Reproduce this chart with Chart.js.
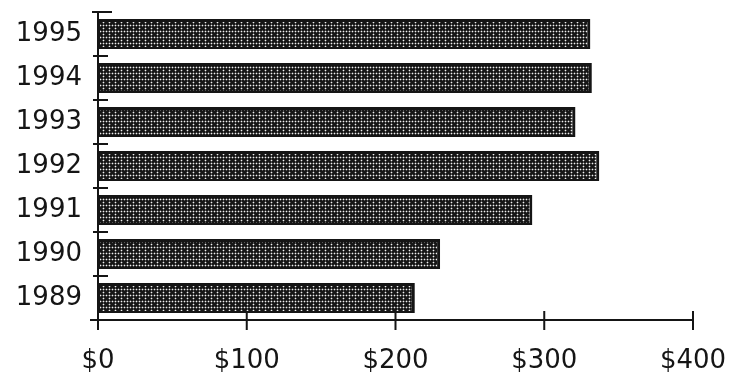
<!DOCTYPE html>
<html>
<head>
<meta charset="utf-8">
<script src="https://cdn.jsdelivr.net/npm/chart.js@4/dist/chart.umd.min.js"></script>
<style>
  html, body { margin: 0; padding: 0; background: #ffffff; }
  #wrap { width: 736px; height: 374px; }
</style>
</head>
<body>
<div id="wrap"><canvas id="chart" width="736" height="374"></canvas></div>
<script>
// Yearly amounts, oldest first (drawn bottom to top)
const years = ['1989', '1990', '1991', '1992', '1993', '1994', '1995'];
const amounts = [213, 230, 292, 337, 321, 332, 331];

// Value axis ticks and their labels
const priceValues = [0, 100, 200, 300, 400];
const priceTicks = ['$0', '$100', '$200', '$300', '$400'];

const INK = '#151515';

// Halftone fill for the bars: dark ground, a 3px lattice of soft light dots,
// with one dot left out per tile so small dark crosses show through
function makeHalftone() {
  const c = document.createElement('canvas');
  c.width = 6; c.height = 6;
  const g = c.getContext('2d');
  g.fillStyle = '#161616';
  g.fillRect(0, 0, 6, 6);
  const dots = [[1, 1], [4, 1], [1, 4]];
  g.fillStyle = '#555555';
  dots.forEach(([x, y]) => {
    g.fillRect(x - 1, y, 1, 1); g.fillRect(x + 1, y, 1, 1);
    g.fillRect(x, y - 1, 1, 1); g.fillRect(x, y + 1, 1, 1);
  });
  g.fillStyle = '#f0f0f0';
  dots.forEach(([x, y]) => g.fillRect(x, y, 1, 1));
  return g.createPattern(c, 'repeat');
}

// Axis lines with tick marks that cross the axis
const crossAxes = {
  id: 'crossAxes',
  afterDatasetsDraw(chart) {
    const { ctx, scales: { x, y }, chartArea: a } = chart;
    ctx.save();
    ctx.strokeStyle = INK;
    ctx.lineWidth = 2;
    ctx.lineCap = 'butt';
    ctx.beginPath();
    // value axis
    ctx.moveTo(a.left - 8, a.bottom);
    ctx.lineTo(x.getPixelForValue(priceValues[priceValues.length - 1]) + 1, a.bottom);
    // category axis
    ctx.moveTo(a.left, a.top - 1);
    ctx.lineTo(a.left, a.bottom);
    // ticks on value axis
    priceValues.forEach(v => {
      const px = x.getPixelForValue(v);
      ctx.moveTo(px, a.bottom - 9);
      ctx.lineTo(px, a.bottom + 10);
    });
    // ticks between categories
    for (let i = 0; i <= years.length; i++) {
      const py = y.getPixelForValue(i - 0.5);
      const out = (i === years.length) ? 6 : 5;
      const inn = (i === years.length) ? 14 : 10;
      ctx.moveTo(a.left - out, py);
      ctx.lineTo(a.left + inn, py);
    }
    ctx.stroke();
    ctx.restore();
  }
};

new Chart(document.getElementById('chart'), {
  type: 'bar',
  data: {
    labels: years,
    datasets: [{
      data: amounts,
      backgroundColor: makeHalftone(),
      borderColor: INK,
      borderWidth: { top: 3, bottom: 2, left: 2, right: 3 },
      borderSkipped: false,
      barPercentage: 0.68,
      categoryPercentage: 1
    }]
  },
  options: {
    indexAxis: 'y',
    responsive: false,
    animation: false,
    layout: { padding: { top: 12, right: 43, left: 0, bottom: 0 } },
    plugins: { legend: { display: false }, tooltip: { enabled: false } },
    scales: {
      x: {
        type: 'linear',
        min: 0,
        max: 400,
        afterBuildTicks: s => { s.ticks = priceValues.map(v => ({ value: v })); },
        afterFit: s => { s.height = 54; s.paddingLeft = 0; s.paddingRight = 0; },
        grid: { display: false, drawTicks: false },
        border: { display: false },
        ticks: {
          padding: 26,
          color: INK,
          font: { family: 'DejaVu Sans', size: 26 },
          callback: (v, i) => priceTicks[i]
        }
      },
      y: {
        reverse: true,
        afterFit: s => { s.width = 98; s.paddingTop = 0; s.paddingBottom = 0; },
        grid: { display: false, drawTicks: false },
        border: { display: false },
        ticks: {
          padding: 16,
          color: INK,
          font: { family: 'DejaVu Sans', size: 26 }
        }
      }
    }
  },
  plugins: [crossAxes]
});
</script>
</body>
</html>
